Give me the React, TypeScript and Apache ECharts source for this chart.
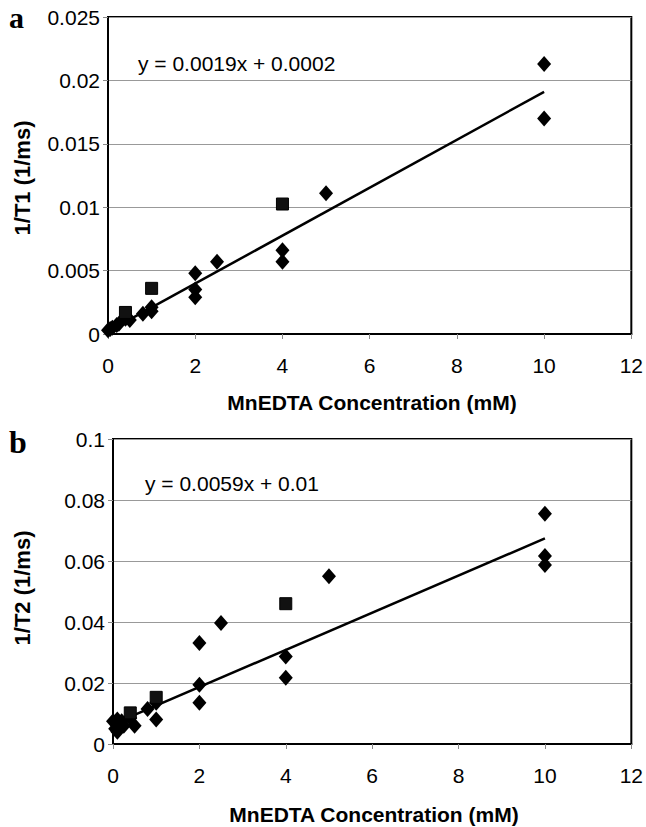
import React, { useEffect, useRef } from "react";
import * as echarts from "echarts";

// Panel a: 1/T1 vs MnEDTA concentration
const t1DiamondX = [0, 0.05, 0.1, 0.2, 0.25, 0.4, 0.5, 0.8, 1, 1, 2, 2, 2, 2.5, 4, 4, 5, 10, 10];
const t1DiamondY = [0.0003, 0.0004, 0.0005, 0.0007, 0.0008, 0.0012, 0.0011, 0.0016, 0.0018, 0.0021, 0.0048, 0.0035, 0.0029, 0.0057, 0.0066, 0.0057, 0.0111, 0.0213, 0.017];
const t1SquareX = [0.4, 1, 4];
const t1SquareY = [0.0017, 0.0036, 0.01025];
const t1TrendX = [0, 10];
const t1TrendY = [0.0002, 0.0191];
const t1Equation = "y = 0.0019x + 0.0002";

// Panel b: 1/T2 vs MnEDTA concentration
const t2DiamondX = [0, 0.05, 0.1, 0.1, 0.2, 0.25, 0.4, 0.5, 0.8, 1, 1, 2, 2, 2, 2.5, 4, 4, 5, 10, 10, 10];
const t2DiamondY = [0.0075, 0.005, 0.008, 0.004, 0.0075, 0.006, 0.0085, 0.006, 0.0115, 0.0135, 0.008, 0.0331, 0.0194, 0.0135, 0.0397, 0.0287, 0.0217, 0.055, 0.0755, 0.0616, 0.0587];
const t2SquareX = [0.4, 1, 4];
const t2SquareY = [0.0102, 0.0153, 0.046];
const t2TrendX = [0, 10];
const t2TrendY = [0.0065, 0.0674];
const t2Equation = "y = 0.0059x + 0.01";

const xTitle = "MnEDTA Concentration (mM)";
const yTitleA = "1/T1 (1/ms)";
const yTitleB = "1/T2 (1/ms)";

const zip = (xs: number[], ys: number[]) => xs.map((x, i) => [x, ys[i]]);

const FONT = "'Liberation Sans', Arial, sans-serif";

export default function App() {
  const ref = useRef<HTMLDivElement>(null);
  useEffect(() => {
    if (!ref.current) return;
    const chart = echarts.init(ref.current, undefined, { renderer: "svg" });
    const xAxisBase = {
      type: "value",
      min: 0,
      max: 12,
      interval: 2,
      axisLine: { show: true, lineStyle: { color: "#000", width: 2 } },
      axisTick: { show: true, length: 5, lineStyle: { color: "#888" } },
      axisLabel: { color: "#000", fontSize: 21, fontFamily: FONT, margin: 21 },
      splitLine: { show: false },
    };
    const yAxisBase = {
      type: "value",
      min: 0,
      axisLine: { show: true, lineStyle: { color: "#000", width: 2 } },
      axisTick: { show: true, length: 5, lineStyle: { color: "#888" } },
      axisLabel: { color: "#000", fontSize: 21, fontFamily: FONT, margin: 8 },
      splitLine: { show: true, lineStyle: { color: "#999", width: 1.2 } },
    };
    const diamond = { symbol: "diamond", symbolSize: [14, 16], itemStyle: { color: "#000", opacity: 1 } };
    const square = { symbol: "rect", symbolSize: 12, itemStyle: { color: "#111", borderColor: "#000", borderWidth: 1, opacity: 1 } };
    const trend = { type: "line", showSymbol: false, symbol: "none", lineStyle: { color: "#000", width: 2.5 }, z: 1 };
    chart.setOption({
      animation: false,
      grid: [
        { left: 108, top: 17, width: 527, height: 317, show: true, borderColor: "#000", borderWidth: 2, backgroundColor: "transparent" },
        { left: 113, top: 439, width: 522, height: 305, show: true, borderColor: "#000", borderWidth: 2, backgroundColor: "transparent" },
      ],
      xAxis: [
        { ...xAxisBase, gridIndex: 0 },
        { ...xAxisBase, gridIndex: 1 },
      ],
      yAxis: [
        { ...yAxisBase, gridIndex: 0, max: 0.025, interval: 0.005 },
        { ...yAxisBase, gridIndex: 1, max: 0.1, interval: 0.02 },
      ],
      series: [
        { ...trend, xAxisIndex: 0, yAxisIndex: 0, data: zip(t1TrendX, t1TrendY) },
        { type: "scatter", ...diamond, xAxisIndex: 0, yAxisIndex: 0, data: zip(t1DiamondX, t1DiamondY), z: 3 },
        { type: "scatter", ...square, xAxisIndex: 0, yAxisIndex: 0, data: zip(t1SquareX, t1SquareY), z: 4 },
        { ...trend, xAxisIndex: 1, yAxisIndex: 1, data: zip(t2TrendX, t2TrendY) },
        { type: "scatter", ...diamond, xAxisIndex: 1, yAxisIndex: 1, data: zip(t2DiamondX, t2DiamondY), z: 3 },
        { type: "scatter", ...square, xAxisIndex: 1, yAxisIndex: 1, data: zip(t2SquareX, t2SquareY), z: 4 },
      ],
      graphic: [
        { type: "text", left: 9, top: 2, style: { text: "a", font: "bold 30px 'Liberation Serif', serif", fill: "#000" } },
        { type: "text", left: 9, top: 426, style: { text: "b", font: "bold 32px 'Liberation Serif', serif", fill: "#000" } },
        { type: "text", x: 138, y: 63, style: { text: t1Equation, font: `21px ${FONT}`, fill: "#000", verticalAlign: "middle" } },
        { type: "text", x: 145, y: 483, style: { text: t2Equation, font: `21px ${FONT}`, fill: "#000", verticalAlign: "middle" } },
        { type: "text", x: 372, y: 402, style: { text: xTitle, font: `bold 21px ${FONT}`, fill: "#000", align: "center", verticalAlign: "middle" } },
        { type: "text", x: 374, y: 814, style: { text: xTitle, font: `bold 21px ${FONT}`, fill: "#000", align: "center", verticalAlign: "middle" } },
        { type: "text", x: 22, y: 178, rotation: Math.PI / 2, style: { text: yTitleA, font: `bold 22px ${FONT}`, fill: "#000", align: "center", verticalAlign: "middle" } },
        { type: "text", x: 22, y: 588, rotation: Math.PI / 2, style: { text: yTitleB, font: `bold 22px ${FONT}`, fill: "#000", align: "center", verticalAlign: "middle" } },
      ],
    });
    return () => chart.dispose();
  }, []);
  return <div ref={ref} style={{ position: "fixed", left: 0, top: 0, width: 646, height: 827, background: "#fff" }} />;
}
